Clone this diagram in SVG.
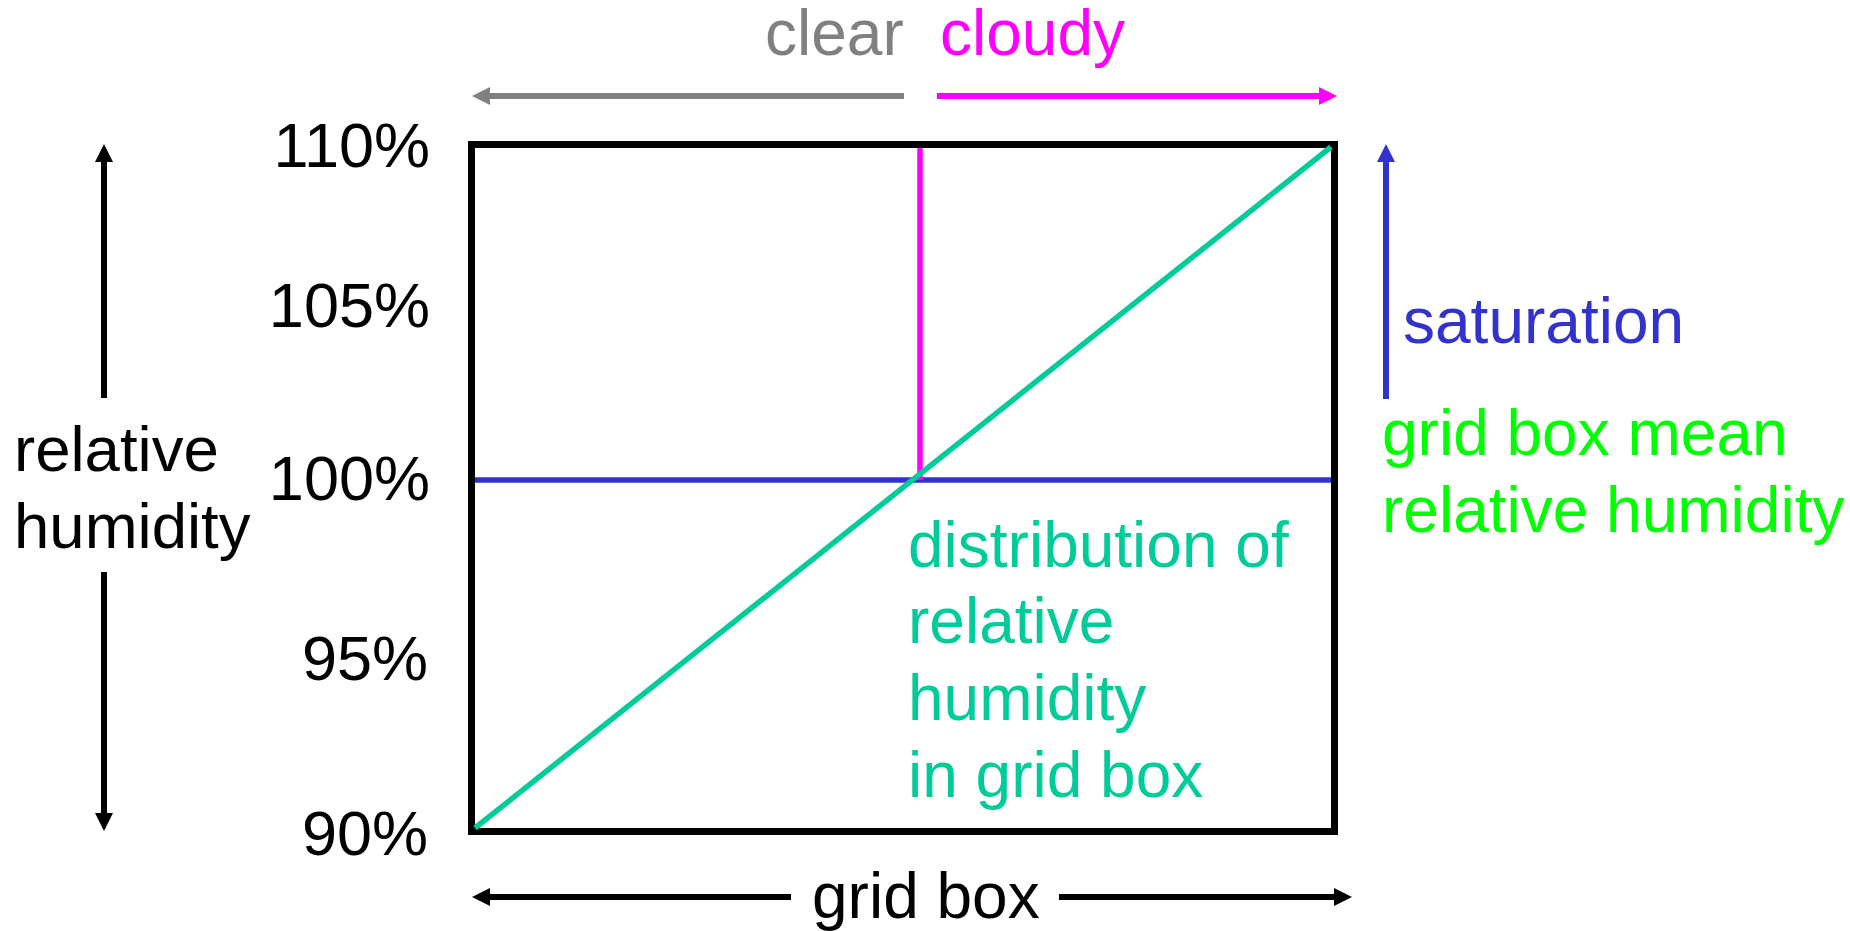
<svg xmlns="http://www.w3.org/2000/svg" width="1850" height="931" viewBox="0 0 1850 931">
<style>
text{font-family:"Liberation Sans",Arial,sans-serif;font-size:64px}
.pct{font-size:63px;text-anchor:end;fill:#000}
.blk{fill:#000}
.teal{fill:#00CC99}
.grn{fill:#00FF00}
.ln{fill:none;stroke-width:6}
</style>
<defs>
<marker id="hk" markerUnits="userSpaceOnUse" markerWidth="18" markerHeight="18" viewBox="0 0 18 18" refX="0" refY="9" orient="auto"><path d="M0,0 L18,9 L0,18 Z" fill="#000"/></marker>
<marker id="hg" markerUnits="userSpaceOnUse" markerWidth="18" markerHeight="18" viewBox="0 0 18 18" refX="0" refY="9" orient="auto"><path d="M0,0 L18,9 L0,18 Z" fill="#808080"/></marker>
<marker id="hm" markerUnits="userSpaceOnUse" markerWidth="18" markerHeight="18" viewBox="0 0 18 18" refX="0" refY="9" orient="auto"><path d="M0,0 L18,9 L0,18 Z" fill="#FF00FF"/></marker>
<marker id="hb" markerUnits="userSpaceOnUse" markerWidth="18" markerHeight="18" viewBox="0 0 18 18" refX="0" refY="9" orient="auto"><path d="M0,0 L18,9 L0,18 Z" fill="#3333CC"/></marker>
</defs>
<g id="grid-box">
<rect x="471.5" y="144.5" width="863" height="687" fill="#fff" stroke="#000" stroke-width="7"/>
<line x1="475" y1="480" x2="1331" y2="480" stroke="#3333CC" stroke-width="5.5"/>
<line x1="920" y1="148" x2="920" y2="480" stroke="#FF00FF" stroke-width="5.5"/>
<line x1="475" y1="828" x2="1331" y2="147" stroke="#00CC99" stroke-width="5.5"/>
</g>
<g id="axis-labels">
<text class="pct" x="430" y="167">110%</text>
<text class="pct" x="430" y="327">105%</text>
<text class="pct" x="430" y="500">100%</text>
<text class="pct" x="428" y="680">95%</text>
<text class="pct" x="428" y="855">90%</text>
</g>
<g id="rh-label">
<text class="blk" x="14" y="471" style="font-size:63.5px">relative</text>
<text class="blk" x="14" y="548" style="font-size:63.5px">humidity</text>
</g>
<g id="clear-label"><text x="765" y="55" fill="#808080">clear</text></g>
<g id="cloudy-label"><text x="940" y="55" fill="#FF00FF">cloudy</text></g>
<g id="saturation-label"><text x="1403" y="343" fill="#3333CC">saturation</text></g>
<g id="mean-label">
<text class="grn" x="1382" y="455">grid box mean</text>
<text class="grn" x="1382" y="532">relative humidity</text>
</g>
<g id="distribution-label">
<text class="teal" x="908" y="567">distribution of</text>
<text class="teal" x="908" y="643">relative</text>
<text class="teal" x="908" y="720">humidity</text>
<text class="teal" x="908" y="797">in grid box</text>
</g>
<g id="gridbox-label"><text class="blk" x="812" y="918">grid box</text></g>
<g id="connectors">
<line class="ln" x1="104" y1="398" x2="104" y2="162" stroke="#000" marker-end="url(#hk)"/>
<line class="ln" x1="104" y1="572" x2="104" y2="813" stroke="#000" marker-end="url(#hk)"/>
<line class="ln" x1="904" y1="96" x2="490" y2="96" stroke="#808080" marker-end="url(#hg)"/>
<line class="ln" x1="937" y1="96" x2="1319" y2="96" stroke="#FF00FF" marker-end="url(#hm)"/>
<line class="ln" x1="1386" y1="399" x2="1386" y2="162" stroke="#3333CC" marker-end="url(#hb)"/>
<line class="ln" x1="791" y1="897" x2="490" y2="897" stroke="#000" marker-end="url(#hk)"/>
<line class="ln" x1="1059" y1="897" x2="1334" y2="897" stroke="#000" marker-end="url(#hk)"/>
</g>
</svg>
